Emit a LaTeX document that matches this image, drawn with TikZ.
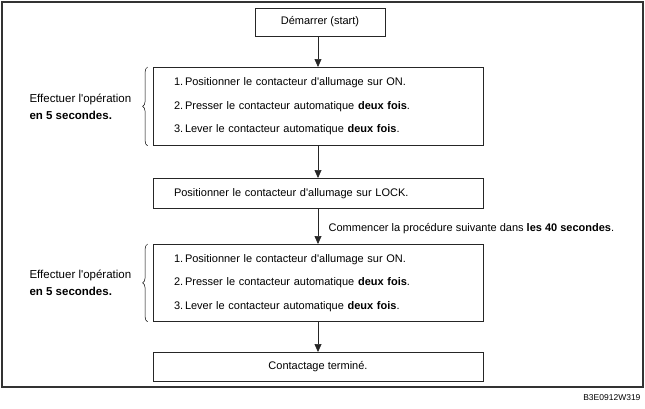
\documentclass[tikz,border=0pt]{standalone}
\usepackage{fontspec}
\setmainfont{Liberation Sans}
\usetikzlibrary{arrows.meta,decorations.pathreplacing}
\tikzset{
  stepbox/.style={draw=black!85,line width=0.8pt,inner xsep=21pt,text width=288pt,align=left,font=\fontsize{11}{23.5}\selectfont},
  endbox/.style={draw=black!85,line width=0.8pt,minimum width=330pt,minimum height=29pt,font=\fontsize{11}{13}\selectfont},
  flow/.style={-{Triangle[width=7pt,length=8pt]},line width=0.6pt,draw=black!85},
  brace/.style={decorate,decoration={brace,amplitude=5pt},line width=0.5pt},
  sidetext/.style={anchor=west,align=left,font=\fontsize{11.5}{17}\selectfont}
}
\newcommand{\ap}{\textquotesingle}
\begin{document}
\begin{tikzpicture}[x=1pt,y=-1pt]
\useasboundingbox (0,0) rectangle (645,408);
\draw[line width=1.2pt,draw=black!80](2,2) rectangle (643,387);
\node[endbox,minimum width=130pt,minimum height=28pt](start) at (320,22){Démarrer (start)};
\node[stepbox,minimum height=78pt,anchor=north](ops1) at (318,67){1.\,Positionner le contacteur d\ap allumage sur ON.\\
2.\,Presser le contacteur automatique \textbf{deux fois}.\\
3.\,Lever le contacteur automatique \textbf{deux fois}.};
\node[stepbox,minimum height=30pt,anchor=north](lock) at (318,178){Positionner le contacteur d\ap allumage sur LOCK.};
\node[stepbox,minimum height=77pt,anchor=north](ops2) at (318,244){1.\,Positionner le contacteur d\ap allumage sur ON.\\
2.\,Presser le contacteur automatique \textbf{deux fois}.\\
3.\,Lever le contacteur automatique \textbf{deux fois}.};
\node[endbox,anchor=north](done) at (318,352){Contactage terminé.};
\draw[flow](start.south -| ops1.north)--(ops1.north);
\draw[flow](ops1)--(lock);
\draw[flow](lock)--node[right=7pt,yshift=-2pt,font=\fontsize{11}{13}\selectfont]{Commencer la procédure suivante dans \textbf{les 40 secondes}.}(ops2);
\draw[flow](ops2)--(done);
% accolades et consignes
\draw[brace]([xshift=-5pt]ops1.south west)--([xshift=-5pt]ops1.north west);
\draw[brace]([xshift=-5pt]ops2.south west)--([xshift=-5pt]ops2.north west);
\node[sidetext](delay1) at (ops1.west -| 26,0){Effectuer l\ap opération\\ \textbf{en 5 secondes.}};
\node[sidetext](delay2) at (ops2.west -| 26,0){Effectuer l\ap opération\\ \textbf{en 5 secondes.}};
\node[anchor=east,font=\fontsize{8.5}{10}\selectfont](ref) at (644,398){B3E0912W319};
\end{tikzpicture}
\end{document}
